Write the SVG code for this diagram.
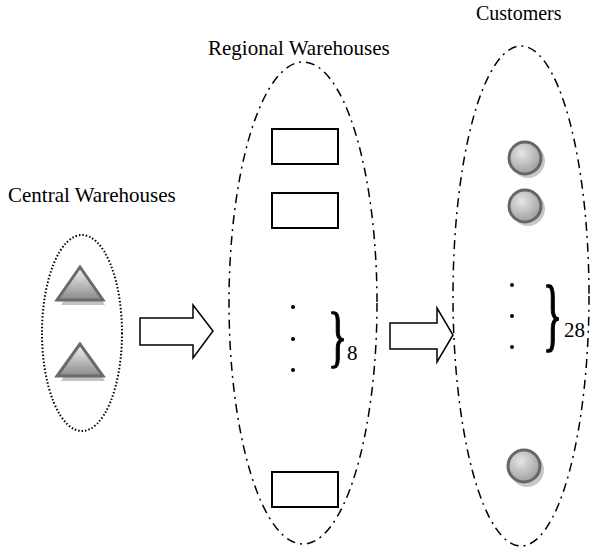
<svg xmlns="http://www.w3.org/2000/svg" width="597" height="547" viewBox="0 0 597 547">
<defs>
<linearGradient id="triG" x1="0" y1="0" x2="0" y2="1">
<stop offset="0" stop-color="#f4f4f4"/>
<stop offset="1" stop-color="#8a8a8a"/>
</linearGradient>
<radialGradient id="cirG" cx="0.4" cy="0.35" r="0.7">
<stop offset="0" stop-color="#e6e6e6"/>
<stop offset="1" stop-color="#9a9a9a"/>
</radialGradient>
<style>
.lbl{font-family:"Liberation Serif","Times New Roman",serif;font-size:21px;fill:#000}
.brace{font-family:"Liberation Serif","Times New Roman",serif;font-size:40px;fill:#000;stroke:#000;stroke-width:0.8}
.tri{fill:url(#triG);stroke:#6a6a6a;stroke-width:3;stroke-linejoin:miter}
.trish{fill:#c4c4c4;stroke:none}
.cir{fill:url(#cirG);stroke:#666;stroke-width:3}
.cirsh{fill:#c8c8c8}
.box{fill:#fff;stroke:#000;stroke-width:2}
.arrow{fill:#fff;stroke:#000;stroke-width:1.5}
.dot{fill:#000}
.dotted{fill:none;stroke:#000;stroke-width:2;stroke-dasharray:1.5 2}
.dashdot{fill:none;stroke:#000;stroke-width:1.5;stroke-dasharray:9 5 2 5}
</style>
</defs>
<rect width="597" height="547" fill="#fff"/>

<g id="central">
<ellipse class="dotted" cx="82" cy="333" rx="40" ry="98"/>
<polygon class="trish" points="82,271 61,305 105,305"/>
<polygon class="tri" points="80,267 57,300 103,300"/>
<polygon class="trish" points="82,348 61,381 105,381"/>
<polygon class="tri" points="80,344 57,376 103,376"/>
<text class="lbl" x="8" y="202">Central Warehouses</text>
</g>

<g id="regional">
<ellipse class="dashdot" cx="303" cy="303" rx="74" ry="241"/>
<rect class="box" x="272" y="129" width="66" height="35"/>
<rect class="box" x="272" y="193" width="66" height="35"/>
<rect class="box" x="272" y="472" width="66" height="35"/>
<circle class="dot" cx="293" cy="307" r="2"/>
<circle class="dot" cx="293" cy="339" r="2"/>
<circle class="dot" cx="293" cy="370" r="2"/>
<text class="brace" transform="translate(328,359) scale(1,1.71)">}</text>
<text class="lbl" x="347" y="360">8</text>
<text class="lbl" x="208" y="55">Regional Warehouses</text>
</g>

<g id="customers">
<ellipse class="dashdot" cx="521" cy="296" rx="68" ry="250"/>
<circle class="cirsh" cx="528" cy="161" r="17"/>
<circle class="cir" cx="525" cy="158" r="16"/>
<circle class="cirsh" cx="528" cy="209" r="17"/>
<circle class="cir" cx="525" cy="206" r="16"/>
<circle class="cirsh" cx="527" cy="470" r="17"/>
<circle class="cir" cx="524" cy="466" r="16"/>
<circle class="dot" cx="512" cy="285" r="2"/>
<circle class="dot" cx="512" cy="316" r="2"/>
<circle class="dot" cx="512" cy="347" r="2"/>
<text class="brace" transform="translate(543,340.5) scale(1,2)">}</text>
<text class="lbl" x="564" y="337">28</text>
<text class="lbl" x="476" y="20" style="font-size:20px">Customers</text>
</g>

<g id="connectors">
<polygon class="arrow" points="140,318 193,318 193,305 213,331 193,358 193,345 140,345"/>
<polygon class="arrow" points="390,323 437,323 437,308 453,335 437,362 437,349 390,349"/>
</g>
</svg>
